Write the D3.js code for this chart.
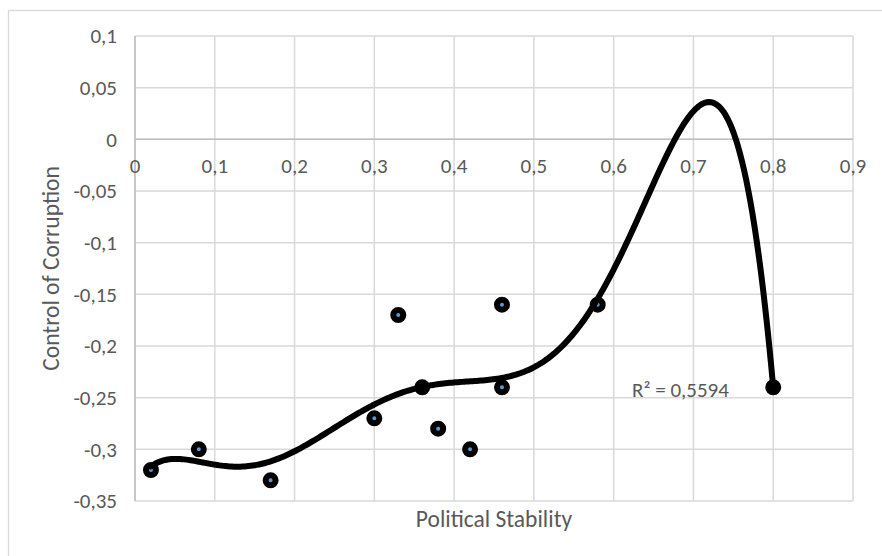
<!DOCTYPE html>
<html>
<head>
<meta charset="utf-8">
<script src="https://cdn.jsdelivr.net/npm/d3@7"></script>
<style>
  html, body { margin: 0; padding: 0; background: #fff; }
  svg { display: block; }
  text { font-family: Carlito, Calibri, Lato, "Liberation Sans", sans-serif; fill: #595959; }
</style>
</head>
<body>
<svg id="chart" width="882" height="556"></svg>
<script>
// ---- data ----
const politicalStability = [0.02, 0.08, 0.17, 0.30, 0.33, 0.36, 0.38, 0.42, 0.46, 0.46, 0.58, 0.80];
const controlOfCorruption = [-0.32, -0.30, -0.33, -0.27, -0.17, -0.24, -0.28, -0.30, -0.16, -0.24, -0.16, -0.24];
const xTicks = [0, 0.1, 0.2, 0.3, 0.4, 0.5, 0.6, 0.7, 0.8, 0.9];
const yTicks = [0.1, 0.05, 0, -0.05, -0.1, -0.15, -0.2, -0.25, -0.3, -0.35];
const xTitle = "Political Stability";
const yTitle = "Control of Corruption";
const rSquaredLabel = "R² = 0,5594";
const trendDegree = 6;

// ---- setup ----
const svg = d3.select("#chart");
const W = 882, H = 556;
const plot = { left: 135, right: 853, top: 36, bottom: 501 };

const x = d3.scaleLinear().domain([0, 0.9]).range([plot.left, plot.right]);
const y = d3.scaleLinear().domain([-0.35, 0.1]).range([plot.bottom, plot.top]);

const loc = d3.formatLocale({ decimal: ",", thousands: ".", grouping: [3], currency: ["", ""], minus: "-" });
const fmt = loc.format("~g");

const gridColor = "#d9d9d9";

svg.append("rect").attr("width", W).attr("height", H).attr("fill", "#fff");
// outer chart border
svg.append("rect").attr("x", 8.5).attr("y", 10.5).attr("width", 900).attr("height", 600)
  .attr("fill", "none").attr("stroke", gridColor).attr("stroke-width", 1.3);

// gridlines
svg.append("g").selectAll("line").data(xTicks).join("line")
  .attr("x1", d => x(d)).attr("x2", d => x(d))
  .attr("y1", plot.top).attr("y2", plot.bottom)
  .attr("stroke", gridColor).attr("stroke-width", 1.5);
svg.append("g").selectAll("line").data(yTicks).join("line")
  .attr("x1", plot.left).attr("x2", plot.right)
  .attr("y1", d => y(d)).attr("y2", d => y(d))
  .attr("stroke", gridColor).attr("stroke-width", 1.5);

// axis lines (cross at zero)
svg.append("line").attr("x1", plot.left).attr("x2", plot.right).attr("y1", y(0)).attr("y2", y(0))
  .attr("stroke", "#bfbfbf").attr("stroke-width", 1.5);
svg.append("line").attr("x1", x(0)).attr("x2", x(0)).attr("y1", plot.top).attr("y2", plot.bottom)
  .attr("stroke", "#bfbfbf").attr("stroke-width", 1.5);

// tick labels
svg.append("g").selectAll("text").data(xTicks).join("text")
  .attr("x", d => x(d)).attr("y", y(0) + 34)
  .attr("text-anchor", "middle").attr("font-size", 21)
  .text(d => fmt(d));
svg.append("g").selectAll("text").data(yTicks).join("text")
  .attr("x", plot.left - 18).attr("y", d => y(d))
  .attr("dy", "0.35em")
  .attr("text-anchor", "end").attr("font-size", 21)
  .text(d => fmt(d));

// axis titles
svg.append("text").attr("x", (plot.left + plot.right) / 2).attr("y", 527)
  .attr("text-anchor", "middle").attr("font-size", 23.5).text(xTitle);
svg.append("text").attr("transform", `translate(59,${(plot.top + plot.bottom) / 2}) rotate(-90)`)
  .attr("text-anchor", "middle").attr("font-size", 23.5).text(yTitle);

// markers
const pts = politicalStability.map((v, i) => [v, controlOfCorruption[i]]);
svg.append("g").selectAll("circle").data(pts).join("circle")
  .attr("cx", d => x(d[0])).attr("cy", d => y(d[1]))
  .attr("r", 5).attr("fill", "#5b9bd5")
  .attr("stroke", "#000").attr("stroke-width", 6);

// polynomial trendline (least squares)
function polyfit(xs, ys, deg) {
  const n = deg + 1;
  const mx = d3.mean(xs), sx = (d3.max(xs) - d3.min(xs)) / 2;
  const t = xs.map(v => (v - mx) / sx);
  const A = Array.from({ length: n }, () => new Array(n).fill(0));
  const b = new Array(n).fill(0);
  for (let k = 0; k < t.length; k++) {
    for (let i = 0; i < n; i++) {
      b[i] += ys[k] * Math.pow(t[k], i);
      for (let j = 0; j < n; j++) A[i][j] += Math.pow(t[k], i + j);
    }
  }
  for (let c = 0; c < n; c++) {
    let p = c;
    for (let r = c + 1; r < n; r++) if (Math.abs(A[r][c]) > Math.abs(A[p][c])) p = r;
    [A[c], A[p]] = [A[p], A[c]]; [b[c], b[p]] = [b[p], b[c]];
    for (let r = c + 1; r < n; r++) {
      const f = A[r][c] / A[c][c];
      for (let j = c; j < n; j++) A[r][j] -= f * A[c][j];
      b[r] -= f * b[c];
    }
  }
  const coef = new Array(n).fill(0);
  for (let i = n - 1; i >= 0; i--) {
    let s = b[i];
    for (let j = i + 1; j < n; j++) s -= A[i][j] * coef[j];
    coef[i] = s / A[i][i];
  }
  return v => { const tt = (v - mx) / sx; return coef.reduce((s, c, i) => s + c * Math.pow(tt, i), 0); };
}
const f = polyfit(politicalStability, controlOfCorruption, trendDegree);
const [x0, x1] = d3.extent(politicalStability);
const curve = d3.range(0, 301).map(i => { const v = x0 + (x1 - x0) * i / 300; return [v, f(v)]; });
svg.append("path").datum(curve)
  .attr("d", d3.line().x(d => x(d[0])).y(d => y(d[1])))
  .attr("fill", "none").attr("stroke", "#000").attr("stroke-width", 6)
  .attr("stroke-linecap", "round").attr("stroke-linejoin", "round");

// R² label
svg.append("text").attr("x", 632).attr("y", 397).attr("font-size", 21).text(rSquaredLabel);
</script>
</body>
</html>
